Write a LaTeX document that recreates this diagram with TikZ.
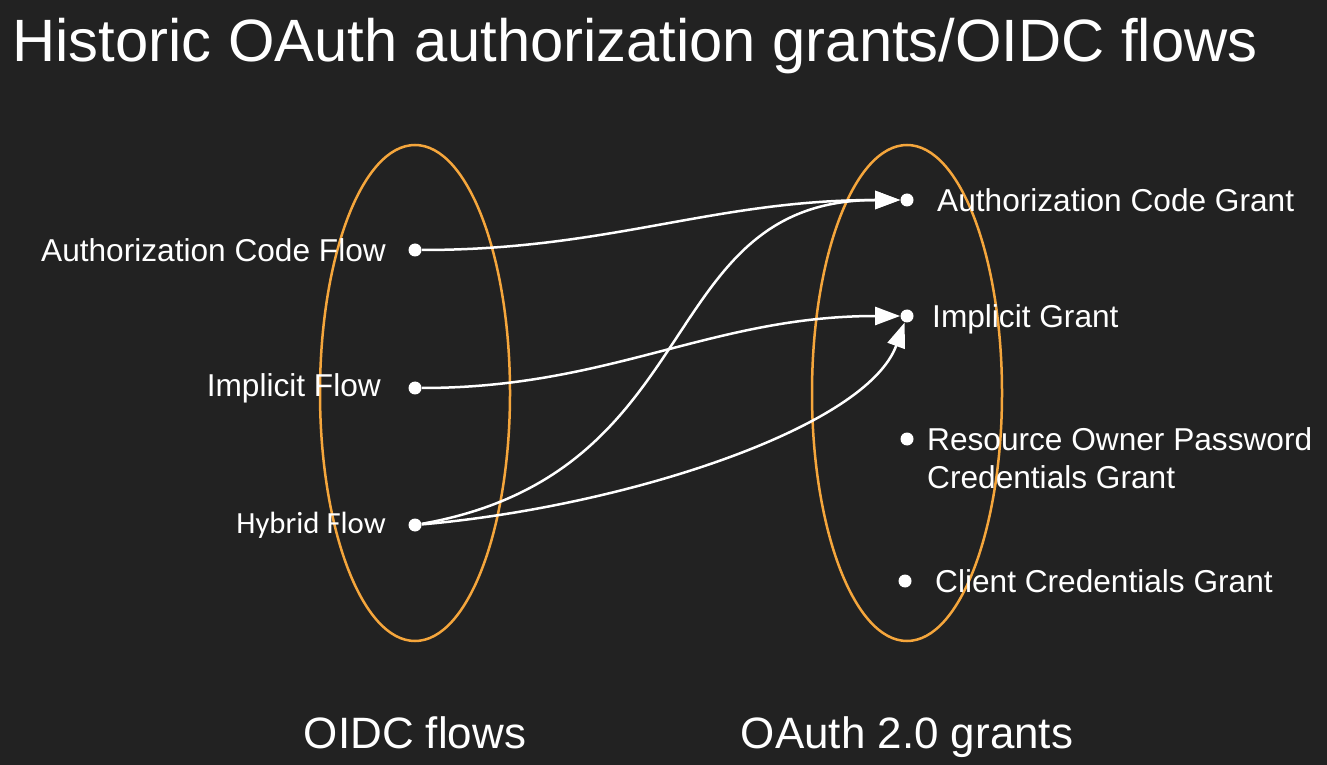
\documentclass[tikz,border=0pt]{standalone}
\usepackage{fontspec}
\setmainfont{Liberation Sans}
\newfontfamily\calibrifont{Carlito}
\usetikzlibrary{arrows.meta,positioning}

\definecolor{bgdark}{RGB}{34,34,34}
\definecolor{setorange}{RGB}{245,166,60}

\begin{document}
\begin{tikzpicture}[
  x=0.2mm, y=0.2mm,
  dot/.style={circle, fill=white, inner sep=0pt, minimum size=2.6mm},
  lbl/.style={text=white, inner sep=0pt, font=\fontsize{18}{21.6}\selectfont},
  setring/.style={draw=setorange, line width=0.5mm},
  flow/.style={-{Triangle[length=5mm,width=3.6mm]}, line width=0.5mm, draw=white},
  caption/.style={text=white, inner sep=0pt, anchor=base, font=\fontsize{25}{30}\selectfont}
]

\fill[bgdark] (0,0) rectangle (1327,-765);

\node[text=white, inner sep=0pt, anchor=base west, font=\fontsize{34}{40}\selectfont]
  (title) at (12,-62) {Historic OAuth authorization grants/OIDC flows};

% the two sets
\draw[setring] (415,-393) ellipse (95 and 248);
\draw[setring] (907,-393) ellipse (95 and 248);

% OIDC flows
\node[dot] (fA) at (415,-250) {};
\node[dot] (fI) at (415,-388) {};
\node[dot] (fH) at (415,-525) {};
\node[lbl, left=4.4mm of fA] (fAtext) {Authorization Code Flow};
\node[lbl, left=5.4mm of fI] (fItext) {Implicit Flow};
\node[lbl, left=4.4mm of fH, font=\calibrifont\fontsize{17.5}{21}\selectfont] (fHtext) {Hybrid Flow};

% OAuth 2.0 grants
\node[dot] (gA) at (907,-200) {};
\node[dot] (gI) at (907,-316) {};
\node[dot] (gR) at (907,-439) {};
\node[dot] (gC) at (905,-581) {};
\node[lbl, right=4.6mm of gA] (gAtext) {Authorization Code Grant};
\node[lbl, right=3.6mm of gI, yshift=-0.6mm] (gItext) {Implicit Grant};
\node[lbl, right=2.6mm of gR, yshift=-3.8mm, align=left] (gRtext) {Resource Owner Password\\Credentials Grant};
\node[lbl, right=4.6mm of gC] (gCtext) {Client Credentials Grant};

\draw[flow] (fA) to[out=0, in=180] (gA);
\draw[flow] (fI) to[out=0, in=180] (gI);
\draw[flow] (fH) to[out=10, in=180, out looseness=1.3, in looseness=1.1] (gA);
\draw[flow] (fH) to[out=5, in=-110, out looseness=1, in looseness=0.55] (gI);

\node[caption] (oidc) at (415,-748) {OIDC flows};
\node[caption] (oauth) at (907,-748) {OAuth 2.0 grants};

\end{tikzpicture}
\end{document}
